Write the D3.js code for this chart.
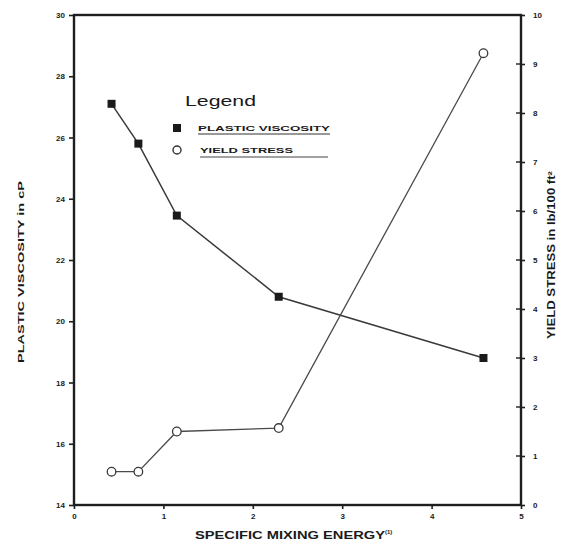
<!DOCTYPE html>
<html>
<head>
<meta charset="utf-8">
<script src="https://cdn.jsdelivr.net/npm/d3@7/dist/d3.min.js"></script>
<style>
  html, body { margin: 0; padding: 0; background: #fff; }
  svg { display: block; }
  text { font-family: "Liberation Sans", Arial, sans-serif; fill: #1a1a1a; }
</style>
</head>
<body>
<svg id="chart" width="561" height="546"></svg>
<script>
// Specific mixing energy (x) shared by both series
const mixingEnergy = [0.42, 0.72, 1.15, 2.29, 4.58];
// Plastic viscosity, cP (left axis)
const plasticViscosity = [27.1, 25.8, 23.45, 20.8, 18.8];
// Yield stress, lb/100 ft² (right axis)
const yieldStress = [0.68, 0.68, 1.5, 1.57, 9.22];

const xTicks = [0, 1, 2, 3, 4, 5];
const leftTicks = [14, 16, 18, 20, 22, 24, 26, 28, 30];
const rightTicks = [0, 1, 2, 3, 4, 5, 6, 7, 8, 9, 10];

const svg = d3.select("#chart");
const m = { left: 74, right: 521, top: 15, bottom: 505 };

const x = d3.scaleLinear().domain([0, 5]).range([m.left, m.right]);
const yL = d3.scaleLinear().domain([14, 30]).range([m.bottom, m.top]);
const yR = d3.scaleLinear().domain([0, 10]).range([m.bottom, m.top]);

const ink = "#1e1e1e";

// frame
svg.append("rect")
  .attr("x", m.left).attr("y", m.top)
  .attr("width", m.right - m.left).attr("height", m.bottom - m.top)
  .attr("fill", "none").attr("stroke", ink).attr("stroke-width", 2.4);

function styleAxis(g) {
  g.select(".domain").remove();
  g.selectAll(".tick line").attr("stroke", ink).attr("stroke-width", 1.6);
  g.selectAll(".tick text")
    .attr("font-size", 8).attr("font-weight", "bold").attr("fill", "#222");
}

// bottom axis
svg.append("g")
  .attr("transform", `translate(0,${m.bottom})`)
  .call(d3.axisBottom(x).tickValues(xTicks).tickFormat(d3.format("d"))
    .tickSize(4).tickPadding(4))
  .call(styleAxis);

// left axis
svg.append("g")
  .attr("transform", `translate(${m.left},0)`)
  .call(d3.axisLeft(yL).tickValues(leftTicks).tickFormat(d3.format("d"))
    .tickSize(5).tickPadding(4))
  .call(styleAxis);

// right axis
svg.append("g")
  .attr("transform", `translate(${m.right},0)`)
  .call(d3.axisRight(yR).tickValues(rightTicks).tickFormat(d3.format("d"))
    .tickSize(4).tickPadding(8))
  .call(styleAxis);

// inward ticks on right axis
svg.append("g").selectAll("line").data(rightTicks).join("line")
  .attr("x1", m.right - 5).attr("x2", m.right)
  .attr("y1", d => yR(d)).attr("y2", d => yR(d))
  .attr("stroke", ink).attr("stroke-width", 1.4);

// axis titles
svg.append("text")
  .attr("transform", "translate(24,272) rotate(-90)")
  .attr("text-anchor", "middle")
  .attr("font-size", 9.5).attr("font-weight", "bold")
  .attr("textLength", 182).attr("lengthAdjust", "spacingAndGlyphs")
  .text("PLASTIC VISCOSITY in cP");

svg.append("text")
  .attr("transform", "translate(555,255) rotate(-90)")
  .attr("text-anchor", "middle")
  .attr("font-size", 10).attr("font-weight", "bold")
  .attr("textLength", 168).attr("lengthAdjust", "spacingAndGlyphs")
  .text("YIELD STRESS in lb/100 ft²");

const xt = svg.append("text")
  .attr("x", 195).attr("y", 539)
  .attr("font-size", 11).attr("font-weight", "bold");
xt.append("tspan").attr("textLength", 190).attr("lengthAdjust", "spacingAndGlyphs")
  .text("SPECIFIC MIXING ENERGY");
xt.append("tspan").attr("dy", -5).attr("font-size", 6).text("(1)");

// series lines
const lineL = d3.line().x((d, i) => x(mixingEnergy[i])).y(d => yL(d));
const lineR = d3.line().x((d, i) => x(mixingEnergy[i])).y(d => yR(d));

svg.append("path").datum(plasticViscosity)
  .attr("d", lineL).attr("fill", "none")
  .attr("stroke", "#3a3a3a").attr("stroke-width", 1.5);

svg.append("path").datum(yieldStress)
  .attr("d", lineR).attr("fill", "none")
  .attr("stroke", "#4a4a4a").attr("stroke-width", 1.3);

// markers
svg.append("g").selectAll("rect").data(plasticViscosity).join("rect")
  .attr("x", (d, i) => x(mixingEnergy[i]) - 4)
  .attr("y", d => yL(d) - 4)
  .attr("width", 8).attr("height", 8)
  .attr("fill", "#1a1a1a");

svg.append("g").selectAll("circle").data(yieldStress).join("circle")
  .attr("cx", (d, i) => x(mixingEnergy[i]))
  .attr("cy", d => yR(d))
  .attr("r", 4.3)
  .attr("fill", "#fff").attr("stroke", "#3a3a3a").attr("stroke-width", 1.3);

// legend
const lg = svg.append("g");
lg.append("text").attr("x", 185).attr("y", 106)
  .attr("font-size", 15).attr("fill", "#333")
  .attr("textLength", 71).attr("lengthAdjust", "spacingAndGlyphs")
  .text("Legend");

lg.append("rect").attr("x", 173).attr("y", 124).attr("width", 8).attr("height", 8)
  .attr("fill", "#1a1a1a");
lg.append("text").attr("x", 198).attr("y", 131)
  .attr("font-size", 8).attr("font-weight", "bold")
  .attr("textLength", 132).attr("lengthAdjust", "spacingAndGlyphs")
  .text("PLASTIC VISCOSITY");
lg.append("line").attr("x1", 198).attr("x2", 330).attr("y1", 134).attr("y2", 134)
  .attr("stroke", "#333").attr("stroke-width", 1);

lg.append("circle").attr("cx", 177).attr("cy", 150).attr("r", 4)
  .attr("fill", "#fff").attr("stroke", "#333").attr("stroke-width", 1.4);
lg.append("text").attr("x", 200).attr("y", 153)
  .attr("font-size", 8).attr("font-weight", "bold")
  .attr("textLength", 93).attr("lengthAdjust", "spacingAndGlyphs")
  .text("YIELD STRESS");
lg.append("line").attr("x1", 200).attr("x2", 328).attr("y1", 157).attr("y2", 157)
  .attr("stroke", "#444").attr("stroke-width", 1);
</script>
</body>
</html>
